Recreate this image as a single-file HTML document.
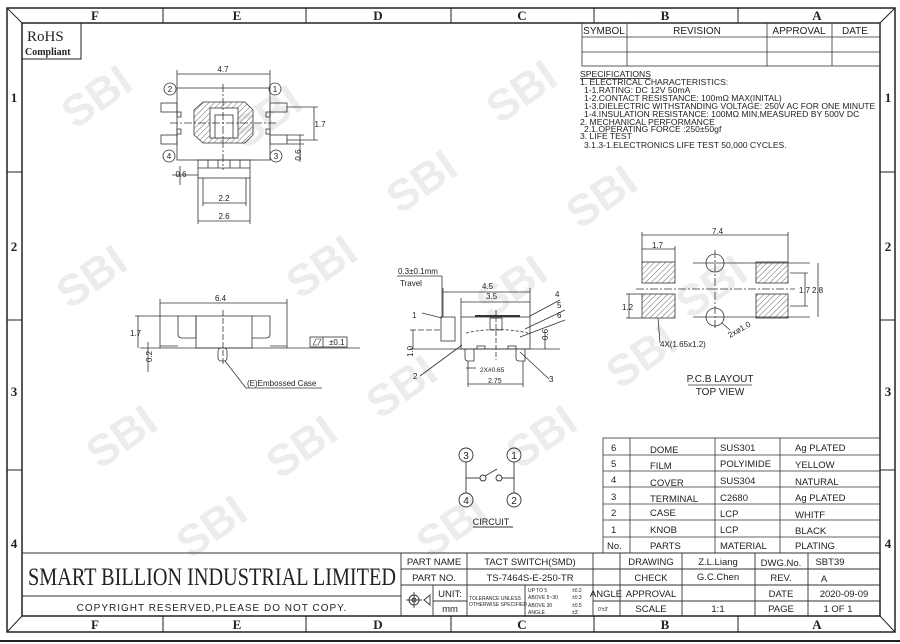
<!DOCTYPE html>
<html><head><meta charset="utf-8"><style>
body{margin:0;background:#fff}
svg{display:block}
text{font-family:"Liberation Sans",sans-serif;fill:#222}
text.s,.s text{font-family:"Liberation Serif",serif}
.wm text{font-family:"Liberation Sans",sans-serif;font-weight:bold;font-size:44px;fill:#ececec}
</style></head><body>
<svg width="900" height="644" viewBox="0 0 900 644" xmlns="http://www.w3.org/2000/svg">
<defs>
<pattern id="h" width="4" height="4" patternUnits="userSpaceOnUse" patternTransform="rotate(45)"><line x1="0" y1="0" x2="0" y2="4" stroke="#444" stroke-width="0.8"/></pattern>
</defs>
<!-- watermarks -->
<g class="wm">
<text transform="translate(75,130) rotate(-35)">SBI</text>
<text transform="translate(245,150) rotate(-35)">SBI</text>
<text transform="translate(500,125) rotate(-35)">SBI</text>
<text transform="translate(400,215) rotate(-35)">SBI</text>
<text transform="translate(580,230) rotate(-35)">SBI</text>
<text transform="translate(70,310) rotate(-35)">SBI</text>
<text transform="translate(300,300) rotate(-35)">SBI</text>
<text transform="translate(490,320) rotate(-35)">SBI</text>
<text transform="translate(620,390) rotate(-35)">SBI</text>
<text transform="translate(100,470) rotate(-35)">SBI</text>
<text transform="translate(280,480) rotate(-35)">SBI</text>
<text transform="translate(380,420) rotate(-35)">SBI</text>
<text transform="translate(520,470) rotate(-35)">SBI</text>
<text transform="translate(190,560) rotate(-35)">SBI</text>
<text transform="translate(430,560) rotate(-35)">SBI</text>
<text transform="translate(690,320) rotate(-35)">SBI</text>
</g>
<!-- frame -->
<g fill="none" stroke="#222">
<rect x="7" y="8" width="888" height="624" stroke-width="1.5"/>
<rect x="22" y="23" width="858" height="593" stroke-width="1.5"/>
<line x1="7" y1="8" x2="22" y2="23"/><line x1="895" y1="8" x2="880" y2="23"/>
<line x1="7" y1="632" x2="22" y2="616"/><line x1="895" y1="632" x2="880" y2="616"/>
<line x1="0" y1="641" x2="900" y2="641" stroke-width="2"/>
<g stroke-width="1">
<line x1="163" y1="8" x2="163" y2="23"/><line x1="306" y1="8" x2="306" y2="23"/><line x1="451" y1="8" x2="451" y2="23"/><line x1="594" y1="8" x2="594" y2="23"/><line x1="738" y1="8" x2="738" y2="23"/>
<line x1="163" y1="616" x2="163" y2="632"/><line x1="306" y1="616" x2="306" y2="632"/><line x1="451" y1="616" x2="451" y2="632"/><line x1="594" y1="616" x2="594" y2="632"/><line x1="738" y1="616" x2="738" y2="632"/>
<line x1="7" y1="172" x2="22" y2="172"/><line x1="7" y1="320" x2="22" y2="320"/><line x1="7" y1="470" x2="22" y2="470"/>
<line x1="880" y1="172" x2="895" y2="172"/><line x1="880" y1="320" x2="895" y2="320"/><line x1="880" y1="470" x2="895" y2="470"/>
</g></g>
<g class="s" font-size="13" text-anchor="middle" font-weight="bold">
<text x="95" y="20">F</text><text x="237" y="20">E</text><text x="378" y="20">D</text><text x="522" y="20">C</text><text x="665" y="20">B</text><text x="817" y="20">A</text>
<text x="95" y="629">F</text><text x="237" y="629">E</text><text x="378" y="629">D</text><text x="522" y="629">C</text><text x="665" y="629">B</text><text x="817" y="629">A</text>
<text x="14" y="102">1</text><text x="14" y="251">2</text><text x="14" y="396">3</text><text x="14" y="548">4</text>
<text x="888" y="102">1</text><text x="888" y="251">2</text><text x="888" y="396">3</text><text x="888" y="548">4</text>
</g>
<!-- RoHS -->
<rect x="22" y="23" width="59" height="36" fill="none" stroke="#222"/>
<text class="s" x="27" y="41" font-size="15">RoHS</text>
<text class="s" x="25" y="55" font-size="10" font-weight="bold">Compliant</text>
<!-- revision table -->
<g fill="none" stroke="#333" stroke-width="0.8">
<rect x="582" y="23" width="298" height="43"/>
<line x1="582" y1="37" x2="880" y2="37"/><line x1="582" y1="52" x2="880" y2="52"/>
<line x1="627" y1="23" x2="627" y2="66"/><line x1="767" y1="23" x2="767" y2="66"/><line x1="832" y1="23" x2="832" y2="66"/>
</g>
<g font-size="10" text-anchor="middle" fill="#333">
<text x="604" y="34">SYMBOL</text><text x="697" y="34">REVISION</text><text x="799" y="34">APPROVAL</text><text x="855" y="34">DATE</text>
</g>
<g font-size="8.6" fill="#222">
<text x="580" y="77" text-decoration="underline">SPECIFICATIONS</text>
<text x="580" y="85">1.  ELECTRICAL  CHARACTERISTICS:</text>
<text x="584" y="93">1-1.RATING:  DC  12V  50mA</text>
<text x="584" y="101">1-2.CONTACT  RESISTANCE:  100mΩ  MAX(INITAL)</text>
<text x="584" y="109">1-3.DIELECTRIC  WITHSTANDING  VOLTAGE:  250V  AC  FOR  ONE  MINUTE</text>
<text x="584" y="117">1-4.INSULATION  RESISTANCE:  100MΩ  MIN,MEASURED  BY  500V  DC</text>
<text x="580" y="125">2.  MECHANICAL  PERFORMANCE</text>
<text x="584" y="132">2.1.OPERATING  FORCE  :250±50gf</text>
<text x="580" y="139">3.  LIFE  TEST</text>
<text x="584" y="148">3.1.3-1.ELECTRONICS  LIFE  TEST  50,000  CYCLES.</text>
</g>
<!-- top view -->
<g fill="none" stroke="#333" stroke-width="0.8">
<rect x="177" y="88" width="93" height="72"/>
<path d="M203,102 H245 L253,110 V135 L245,143 H203 L194,135 V110 Z" fill="url(#h)"/>
<rect x="210" y="108" width="28" height="30" fill="#fff"/><rect x="215" y="115" width="18" height="23" fill="#fff"/>
<line x1="223" y1="84" x2="223" y2="170" stroke-dasharray="8,2,2,2"/>
<line x1="170" y1="123" x2="278" y2="123" stroke-dasharray="8,2,2,2"/>
<rect x="161" y="103" width="16" height="9"/><rect x="161" y="135" width="16" height="9"/>
<rect x="270" y="103" width="17" height="9"/><rect x="270" y="135" width="17" height="9"/>
<rect x="177" y="112" width="4" height="5"/><rect x="177" y="129" width="4" height="5"/>
<rect x="266" y="112" width="4" height="5"/><rect x="266" y="129" width="4" height="5"/>
<circle cx="170" cy="89" r="6"/><circle cx="275" cy="89" r="6"/><circle cx="169" cy="156" r="6"/><circle cx="276" cy="156" r="6"/>
<rect x="198" y="160" width="52" height="18"/>
<line x1="208" y1="160" x2="208" y2="168"/><line x1="218" y1="160" x2="218" y2="168"/><line x1="230" y1="160" x2="230" y2="168"/><line x1="240" y1="160" x2="240" y2="168"/><line x1="198" y1="168" x2="250" y2="168"/>
<line x1="177" y1="70" x2="177" y2="88"/><line x1="270" y1="70" x2="270" y2="88"/><line x1="177" y1="74" x2="270" y2="74"/>
<line x1="287" y1="107" x2="318" y2="107"/><line x1="287" y1="140" x2="318" y2="140"/><line x1="314" y1="107" x2="314" y2="140"/>
<line x1="300" y1="135" x2="300" y2="162"/><line x1="287" y1="135" x2="304" y2="135"/><line x1="287" y1="144" x2="304" y2="144"/>
<line x1="180" y1="166" x2="180" y2="185"/><line x1="172" y1="175" x2="198" y2="175"/>
<line x1="203" y1="178" x2="203" y2="206"/><line x1="246" y1="178" x2="246" y2="206"/><line x1="203" y1="203" x2="246" y2="203"/>
<line x1="198" y1="178" x2="198" y2="224"/><line x1="250" y1="178" x2="250" y2="224"/><line x1="198" y1="221" x2="250" y2="221"/>
</g>
<g font-size="8" text-anchor="middle" fill="#333">
<text x="223" y="72">4.7</text><text x="170" y="92">2</text><text x="275" y="92">1</text><text x="169" y="159">4</text><text x="276" y="159">3</text>
<text x="224" y="201">2.2</text><text x="224" y="219">2.6</text><text x="181" y="177">0.6</text>
<text x="320" y="127">1.7</text><text x="298" y="158" transform="rotate(-90 298 155)">0.6</text>
</g>
<!-- side view -->
<g fill="none" stroke="#333" stroke-width="0.8">
<line x1="160" y1="299" x2="160" y2="348"/><line x1="287" y1="299" x2="287" y2="348"/><line x1="160" y1="303" x2="287" y2="303"/>
<line x1="140" y1="348" x2="360" y2="348"/>
<rect x="196" y="316" width="56" height="32"/>
<path d="M178,316 H196 V338 H182 Q178,338 178,334 Z"/><path d="M252,316 H270 V334 Q270,338 266,338 H252"/>
<line x1="160" y1="346" x2="178" y2="346"/><line x1="270" y1="346" x2="287" y2="346"/>
<rect x="218" y="348" width="9" height="13" rx="3"/>
<line x1="223" y1="310" x2="223" y2="365" stroke-dasharray="6,2"/>
<line x1="135" y1="316" x2="178" y2="316"/><line x1="138" y1="316" x2="138" y2="348"/>
<line x1="148" y1="342" x2="148" y2="372"/>
<rect x="310" y="337" width="37" height="10"/><line x1="323" y1="337" x2="323" y2="347"/>
<path d="M225,361 L246,388 H322"/>
</g>
<g font-size="8" fill="#333">
<text x="215" y="301">6.4</text><text x="130" y="336">1.7</text><text x="147" y="367" transform="rotate(-90 147 362)">0.2</text>
<text x="329" y="345">±0.1</text><path d="M313,345 L316,339 H321 L318,345Z" fill="none" stroke="#333" stroke-width="0.6"/>
<text x="247" y="386">(E)Embossed Case</text>
</g>
<!-- front view -->
<g fill="none" stroke="#333" stroke-width="0.8">
<line x1="397" y1="276" x2="442" y2="276"/><line x1="442" y1="276" x2="442" y2="317"/>
<line x1="443" y1="288" x2="443" y2="317"/><line x1="530" y1="288" x2="530" y2="317"/><line x1="443" y1="292" x2="530" y2="292"/>
<line x1="461" y1="298" x2="461" y2="317"/><line x1="461" y1="302" x2="530" y2="302"/>
<rect x="461" y="317" width="69" height="32"/>
<line x1="475" y1="316" x2="520" y2="316" stroke-width="2"/>
<rect x="490" y="318" width="12" height="12"/>
<rect x="441" y="317" width="14" height="24"/>
<path d="M466,333 Q496,326 528,333" stroke-dasharray="3,2"/>
<line x1="410" y1="330" x2="441" y2="330" stroke-dasharray="6,2"/>
<line x1="410" y1="349" x2="560" y2="349"/>
<line x1="413" y1="330" x2="413" y2="349"/>
<path d="M465,349 V358 Q465,361 468,361 H474 V349"/><path d="M516,349 V358 Q516,361 519,361 H525 V349"/>
<rect x="477" y="346" width="8" height="3"/><rect x="508" y="346" width="8" height="3"/>
<line x1="496" y1="310" x2="496" y2="360" stroke-dasharray="5,2"/>
<line x1="545" y1="332" x2="545" y2="349"/>
<line x1="468" y1="361" x2="468" y2="387"/><line x1="523" y1="361" x2="523" y2="387"/><line x1="468" y1="384" x2="523" y2="384"/>
<line x1="466" y1="368" x2="476" y2="368"/>
<path d="M422,313 L442,318"/><path d="M420,376 L462,345"/><path d="M549,379 L520,352"/>
<path d="M560,300 L530,316"/><path d="M565,310 L525,329"/><path d="M565,320 L520,337"/>
</g>
<g font-size="8" fill="#333">
<text x="398" y="274">0.3±0.1mm</text><text x="400" y="286">Travel</text>
<text x="482" y="289">4.5</text><text x="486" y="299">3.5</text>
<text x="412" y="318">1</text><text x="413" y="379">2</text><text x="549" y="382">3</text>
<text x="555" y="297">4</text><text x="557" y="308">5</text><text x="557" y="318">6</text>
<text x="480" y="372" font-size="6.5">2X#0.65</text><text x="488" y="383" font-size="7">2.75</text>
<text x="410" y="360" transform="rotate(-90 410 357)">1.0</text><text x="545" y="343" transform="rotate(-90 545 340)">0.6</text>
</g>
<!-- PCB -->
<g fill="none" stroke="#333" stroke-width="0.8">
<rect x="642" y="262" width="33" height="21" fill="url(#h)"/><rect x="642" y="294" width="33" height="24" fill="url(#h)"/>
<rect x="756" y="262" width="32" height="21" fill="url(#h)"/><rect x="756" y="294" width="32" height="24" fill="url(#h)"/>
<circle cx="715" cy="263" r="9"/><circle cx="715" cy="317" r="9"/>
<line x1="715" y1="250" x2="715" y2="330" stroke-dasharray="8,2,2,2"/>
<line x1="636" y1="289" x2="795" y2="289" stroke-dasharray="8,2,2,2"/>
<line x1="693" y1="263" x2="810" y2="263"/><line x1="693" y1="317" x2="810" y2="317"/>
<line x1="642" y1="232" x2="642" y2="262"/><line x1="788" y1="232" x2="788" y2="262"/><line x1="642" y1="235" x2="788" y2="235"/>
<line x1="675" y1="246" x2="675" y2="262"/><line x1="642" y1="249" x2="675" y2="249"/>
<line x1="790" y1="273" x2="808" y2="273"/><line x1="790" y1="306" x2="808" y2="306"/><line x1="805" y1="273" x2="805" y2="306"/>
<line x1="818" y1="263" x2="818" y2="317"/>
<line x1="626" y1="294" x2="642" y2="294"/><line x1="626" y1="318" x2="642" y2="318"/><line x1="629" y1="294" x2="629" y2="318"/>
<path d="M658,318 L660,343"/><path d="M722,323 L730,330"/>
<line x1="688" y1="385" x2="752" y2="385"/>
</g>
<g font-size="8" fill="#333">
<text x="712" y="234">7.4</text><text x="652" y="248">1.7</text><text x="799" y="293">1.7</text><text x="812" y="293">2.8</text>
<text x="622" y="310">1.2</text><text x="660" y="347">4X(1.65x1.2)</text>
<text x="730" y="338" transform="rotate(-30 730 338)">2xø1.0</text>
</g>
<g font-size="10" text-anchor="middle" fill="#333"><text x="720" y="382">P.C.B  LAYOUT</text><text x="720" y="395">TOP  VIEW</text></g>
<!-- circuit -->
<g fill="none" stroke="#333" stroke-width="0.9">
<circle cx="466" cy="455" r="7"/><circle cx="514" cy="455" r="7"/><circle cx="466" cy="500" r="7"/><circle cx="514" cy="500" r="7"/>
<line x1="466" y1="462" x2="466" y2="493"/><line x1="514" y1="462" x2="514" y2="493"/>
<line x1="466" y1="478" x2="480" y2="478"/><circle cx="483" cy="478" r="3"/><circle cx="499" cy="478" r="3"/><line x1="502" y1="478" x2="514" y2="478"/>
<line x1="485" y1="476" x2="497" y2="469"/>
<line x1="473" y1="527" x2="513" y2="527"/>
</g>
<g font-size="10" text-anchor="middle" fill="#333"><text x="466" y="459">3</text><text x="514" y="459">1</text><text x="466" y="504">4</text><text x="514" y="504">2</text><text x="491" y="525" font-size="9">CIRCUIT</text></g>
<!-- parts table -->
<g fill="none" stroke="#333" stroke-width="0.8">
<rect x="603" y="438" width="277" height="115"/>
<line x1="603" y1="455" x2="880" y2="455"/><line x1="603" y1="471" x2="880" y2="471"/><line x1="603" y1="487" x2="880" y2="487"/><line x1="603" y1="504" x2="880" y2="504"/><line x1="603" y1="520" x2="880" y2="520"/><line x1="603" y1="537" x2="880" y2="537"/>
<line x1="630" y1="438" x2="630" y2="553"/><line x1="715" y1="438" x2="715" y2="553"/><line x1="780" y1="438" x2="780" y2="553"/>
</g>
<g font-size="9.5" fill="#333">
<text x="611" y="451">6</text><text x="650" y="453">DOME</text><text x="720" y="451">SUS301</text><text x="795" y="451">Ag  PLATED</text>
<text x="611" y="467">5</text><text x="650" y="469">FILM</text><text x="720" y="467">POLYIMIDE</text><text x="795" y="468">YELLOW</text>
<text x="611" y="483">4</text><text x="650" y="486">COVER</text><text x="720" y="484">SUS304</text><text x="795" y="485">NATURAL</text>
<text x="611" y="500">3</text><text x="650" y="502">TERMINAL</text><text x="720" y="501">C2680</text><text x="795" y="501">Ag  PLATED</text>
<text x="611" y="516">2</text><text x="650" y="516">CASE</text><text x="720" y="517">LCP</text><text x="795" y="518">WHITF</text>
<text x="611" y="533">1</text><text x="650" y="533">KNOB</text><text x="720" y="533">LCP</text><text x="795" y="534">BLACK</text>
<text x="607" y="549">No.</text><text x="650" y="549">PARTS</text><text x="720" y="549">MATERIAL</text><text x="795" y="549">PLATING</text>
</g>
<!-- title block -->
<g fill="none" stroke="#333" stroke-width="0.9">
<line x1="22" y1="553" x2="880" y2="553"/><line x1="22" y1="596" x2="401" y2="596"/>
<line x1="401" y1="553" x2="401" y2="616"/>
<line x1="401" y1="569" x2="880" y2="569"/><line x1="401" y1="585" x2="880" y2="585"/><line x1="593" y1="601" x2="880" y2="601"/>
<line x1="467" y1="553" x2="467" y2="616"/><line x1="433" y1="585" x2="433" y2="616"/><line x1="433" y1="601" x2="467" y2="601"/>
<line x1="525" y1="585" x2="525" y2="616"/>
<line x1="593" y1="553" x2="593" y2="616"/><line x1="620" y1="585" x2="620" y2="616"/><line x1="620" y1="553" x2="620" y2="585"/>
<line x1="682" y1="553" x2="682" y2="616"/><line x1="755" y1="553" x2="755" y2="616"/><line x1="808" y1="553" x2="808" y2="616"/>
<circle cx="414" cy="600" r="5"/><circle cx="414" cy="600" r="2"/><line x1="406" y1="600" x2="422" y2="600"/><line x1="414" y1="592" x2="414" y2="608"/>
<path d="M424,600 L430,595 V605 Z"/>
</g>
<text class="s" x="28" y="585" font-size="25" textLength="368" lengthAdjust="spacingAndGlyphs">SMART BILLION INDUSTRIAL LIMITED</text>
<text x="212" y="611" font-size="10" text-anchor="middle" fill="#555" letter-spacing="1">COPYRIGHT  RESERVED,PLEASE  DO  NOT  COPY.</text>
<g font-size="9.5" fill="#333" text-anchor="middle">
<text x="434" y="565">PART  NAME</text><text x="530" y="565">TACT  SWITCH(SMD)</text><text x="651" y="565">DRAWING</text><text x="718" y="565">Z.L.Liang</text><text x="781" y="566">DWG.No.</text><text x="830" y="565">SBT39</text>
<text x="434" y="581">PART  NO.</text><text x="530" y="581">TS-7464S-E-250-TR</text><text x="651" y="581">CHECK</text><text x="718" y="580">G.C.Chen</text><text x="781" y="581">REV.</text><text x="824" y="582">A</text>
<text x="450" y="597">UNIT:</text><text x="450" y="612">mm</text>
<text x="606" y="597">ANGLE</text><text x="651" y="597">APPROVAL</text><text x="781" y="597">DATE</text><text x="844" y="597">2020-09-09</text>
<text x="651" y="612">SCALE</text><text x="718" y="612">1:1</text><text x="781" y="612">PAGE</text><text x="838" y="612">1  OF  1</text>
</g>
<g font-size="5" fill="#333">
<text x="469" y="600">TOLERANCE UNLESS</text><text x="469" y="606">OTHERWISE SPECIFIED</text>
<text x="528" y="592">UP TO 5</text><text x="572" y="592">±0.2</text>
<text x="528" y="599">ABOVE 5~30</text><text x="572" y="599">±0.3</text>
<text x="528" y="607">ABOVE 30</text><text x="572" y="607">±0.5</text>
<text x="528" y="614">ANGLE</text><text x="572" y="614">±3'</text>
<text x="598" y="611">0'±3'</text>
</g>
</svg>
</body></html>
